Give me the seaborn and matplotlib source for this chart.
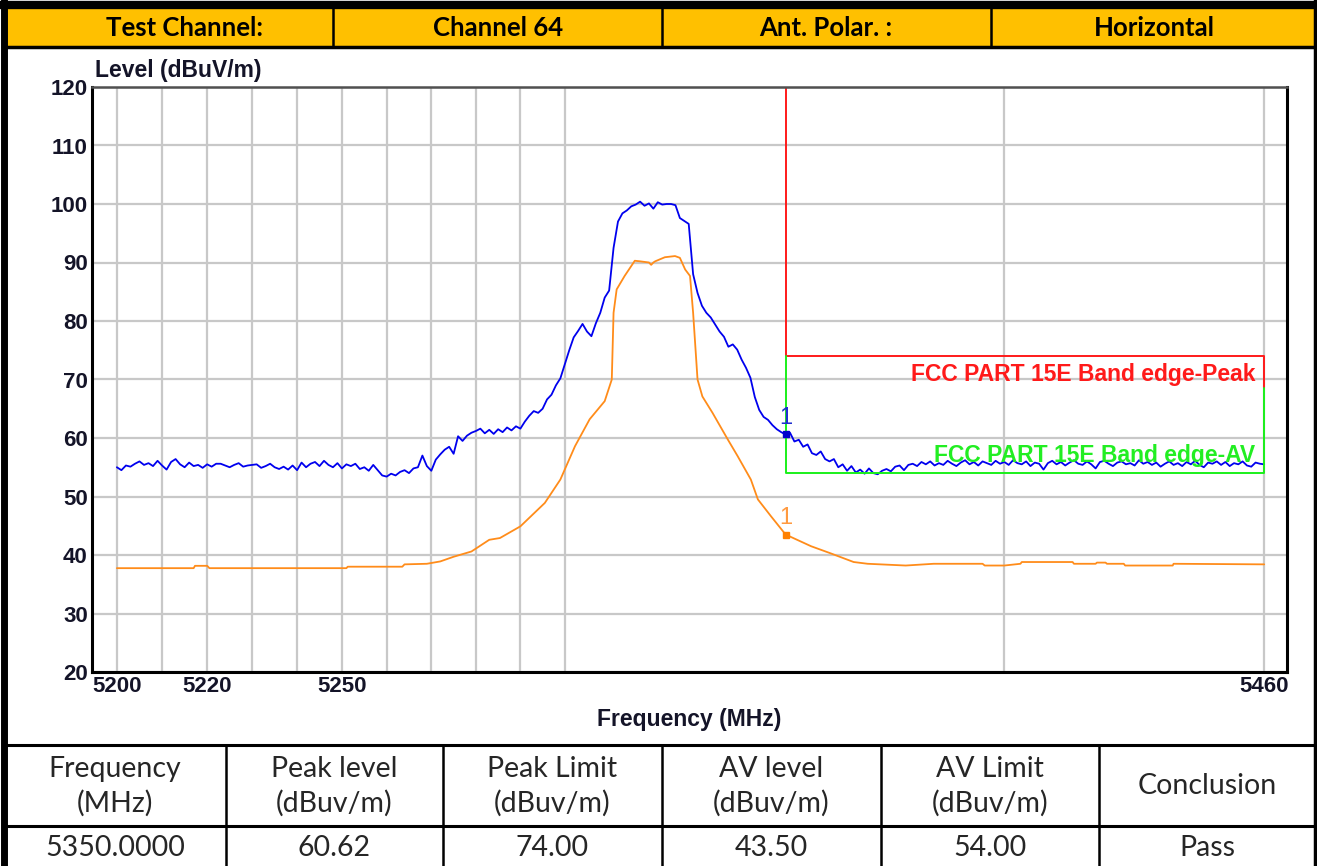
import numpy as np
import pandas as pd
import seaborn as sns
import matplotlib.pyplot as plt
from matplotlib.lines import Line2D
from matplotlib.patches import Rectangle
from matplotlib.ticker import NullFormatter

# header / result table text
header_cells = ['Test Channel:', 'Channel 64', 'Ant. Polar. :', 'Horizontal']
table_heads = ['Frequency\n(MHz)', 'Peak level\n(dBuv/m)', 'Peak Limit\n(dBuv/m)',
               'AV level\n(dBuv/m)', 'AV Limit\n(dBuv/m)', 'Conclusion']
table_vals = ['5350.0000', '60.62', '74.00', '43.50', '54.00', 'Pass']

marker_freq = 5350.0
peak_level = 60.62
av_level = 43.50
peak_limit = 74.0
av_limit = 54.0
limit_join = 68.5

# peak sweep (blue), one point per MHz from 5200 to 5460
peak_freq = np.arange(5200, 5461, 1)
peak_vals = [
    55.0, 54.5, 55.3, 55.1, 55.6, 56.0, 55.4, 55.7, 55.2, 56.1,
    55.3, 54.6, 55.9, 56.4, 55.5, 55.0, 55.8, 55.2, 55.4, 54.9,
    55.5, 55.1, 55.6, 55.6, 55.3, 55.0, 55.4, 55.7, 55.1, 55.3,
    55.4, 55.5, 54.9, 55.2, 55.6, 55.0, 54.7, 55.1, 54.6, 55.3,
    54.5, 55.8, 55.0, 55.6, 55.9, 55.2, 56.1, 55.4, 55.0, 55.7,
    54.8, 55.5, 55.2, 55.6, 54.7, 55.0, 54.4, 55.4, 54.5, 53.6,
    53.4, 53.9, 53.6, 54.2, 54.5, 54.0, 54.8, 55.0, 57.0, 55.2,
    54.4, 56.3, 57.2, 58.0, 58.5, 57.3, 60.3, 59.5, 60.4, 60.9,
    61.2, 61.6, 60.8, 61.4, 60.7, 61.5, 61.0, 61.8, 61.3, 62.0,
    61.6, 62.8, 63.8, 64.6, 64.3, 65.0, 66.6, 67.4, 69.0, 70.2,
    72.6, 75.0, 77.2, 78.3, 79.5, 78.2, 77.4, 79.6, 81.4, 84.0,
    85.2, 92.5, 97.0, 98.4, 98.9, 99.6, 99.9, 100.4, 99.7, 100.1,
    99.2, 100.3, 99.9, 100.0, 100.0, 99.8, 97.6, 97.1, 96.6, 88.0,
    84.8, 82.6, 81.4, 80.6, 79.4, 78.2, 77.3, 75.6, 76.0, 75.1,
    73.4, 72.0, 70.3, 67.0, 64.8, 63.6, 63.1, 62.2, 61.5, 61.0,
    60.6, 60.9, 59.4, 59.7, 58.5, 58.9, 57.4, 57.1, 57.7, 56.4,
    56.0, 56.4, 55.0, 55.5, 54.4, 55.2, 54.1, 54.6, 53.9, 54.8,
    54.0, 53.8, 54.4, 54.7, 54.3, 55.1, 55.3, 54.5, 55.4, 55.6,
    55.2, 55.9, 55.5, 56.0, 55.3, 55.7, 55.4, 56.1, 55.6, 55.2,
    55.8, 56.2, 55.5, 55.9, 55.3, 56.0, 55.7, 55.4, 56.1, 55.6,
    55.9, 55.4, 56.2, 55.7, 55.5, 56.0, 55.2, 55.8, 55.6, 54.6,
    55.7, 56.1, 55.5, 55.9, 55.3, 55.8, 56.2, 55.6, 55.4, 56.0,
    55.5, 54.8, 55.9, 56.1, 55.6, 55.2, 55.8, 56.0, 55.5, 55.7,
    55.3, 56.2, 55.6, 55.9, 55.4, 55.8, 55.1, 55.6, 56.0, 55.4,
    55.7, 55.2, 55.9, 55.5, 56.1, 55.4, 55.0, 55.8, 55.6, 56.0,
    55.4, 55.9, 55.2, 55.7, 55.5, 56.0, 55.3, 55.1, 55.8, 55.6,
    55.5,
]

# average sweep (orange), breakpoints
av_freq = [5200, 5217, 5217.3, 5220, 5220.5, 5251, 5251.3, 5263.5, 5264, 5269,
           5272, 5275, 5279, 5283, 5285.4, 5290, 5295.5, 5299, 5302.3, 5305.6,
           5309, 5310.6, 5311, 5311.7, 5313.5, 5315.8, 5317, 5319, 5319.5, 5320,
           5320.4, 5322.6, 5324.9, 5326, 5327.2, 5328.3, 5329, 5330, 5331.1, 5333.4,
           5336.9, 5339.1, 5342.1, 5343.7, 5346.7, 5350, 5355.8, 5360.2, 5365.5, 5368.7,
           5377.4, 5383.8, 5395, 5395.5, 5400, 5403.7, 5404, 5415.7, 5416, 5421,
           5421.3, 5423.3, 5423.6, 5427.5, 5427.8, 5438.8, 5439, 5460]
av_vals = [37.75, 37.75, 38.15, 38.15, 37.75, 37.75, 38.0, 38.0, 38.4, 38.5,
           38.9, 39.7, 40.6, 42.6, 42.9, 44.9, 48.9, 52.9, 58.6, 63.2,
           66.3, 70.0, 81.4, 85.4, 87.7, 90.3, 90.2, 90.0, 89.6, 90.0,
           90.2, 90.9, 91.1, 90.8, 88.8, 87.7, 81.4, 70.0, 67.1, 64.3,
           59.7, 56.9, 52.9, 49.5, 46.6, 43.5, 41.5, 40.3, 38.8, 38.5,
           38.2, 38.5, 38.5, 38.2, 38.2, 38.5, 38.8, 38.8, 38.5, 38.5,
           38.7, 38.7, 38.5, 38.5, 38.2, 38.2, 38.5, 38.4]

# limit lines
peak_lim_x = [5350, 5350, 5460, 5460]
peak_lim_y = [120, peak_limit, peak_limit, limit_join]
av_lim_x = [5350, 5350, 5460, 5460]
av_lim_y = [peak_limit, av_limit, av_limit, limit_join]

grid_major = [5200, 5220, 5250, 5460]
grid_minor = [5210, 5230, 5240, 5260, 5270, 5280, 5290, 5300, 5400]

sns.set_style('white')
plt.rcParams['font.family'] = ['Liberation Sans', 'DejaVu Sans']

W, H = 1317, 866
fig = plt.figure(figsize=(W / 100, H / 100), dpi=100)


def fx(x):
    return x / W


def fy(y):
    return 1 - y / H


def hline(y, x0, x1, lw=2.0):
    fig.add_artist(Line2D([fx(x0), fx(x1)], [fy(y), fy(y)], color='black', lw=lw))


def vline(x, y0, y1, lw=2.0):
    fig.add_artist(Line2D([fx(x), fx(x)], [fy(y0), fy(y1)], color='black', lw=lw))


# header row
fig.add_artist(Rectangle((fx(5), fy(47)), fx(1315) - fx(5), fy(8) - fy(47),
                         facecolor='#FFC000', edgecolor='none'))
head_x = [185, 498, 826, 1154]
for hx, txt in zip(head_x, header_cells):
    fig.text(fx(hx), fy(28), txt, ha='center', va='center', fontsize=18.5,
             fontweight='bold', family=['Lato', 'DejaVu Sans'], color='black')
hline(5, 0, 1317, lw=6)
hline(47, 3, 1315, lw=2.5)
for sx in [333, 662, 991]:
    vline(sx, 8, 47, lw=1.8)
vline(4, 0, 866, lw=5)
vline(1315, 0, 866, lw=2.5)

# result table
col_edges = [4, 226, 443, 662, 881, 1099, 1315]
hline(745, 4, 1317, lw=2.2)
hline(826, 4, 1317, lw=2.2)
for sx in col_edges[1:-1]:
    vline(sx, 745, 866, lw=1.8)
for i, (th, tv) in enumerate(zip(table_heads, table_vals)):
    cx = (col_edges[i] + col_edges[i + 1]) / 2
    fig.text(fx(cx), fy(786), th, ha='center', va='center', fontsize=20.5,
             family=['Lato', 'DejaVu Sans'], linespacing=1.35)
    fig.text(fx(cx), fy(848), tv, ha='center', va='center', fontsize=20.5,
             family=['Lato', 'DejaVu Sans'])

# chart
ax = fig.add_axes([fx(92), fy(672), fx(1287) - fx(92), fy(87) - fy(672)])
ax.set_xscale('log')

sns.lineplot(x=peak_freq, y=peak_vals, ax=ax, color='#0000EE', lw=1.3, sort=False)
sns.lineplot(x=av_freq, y=av_vals, ax=ax, color='#FF8C1A', lw=1.3, sort=False)
ax.plot(peak_lim_x, peak_lim_y, color='#FF1A1A', lw=1.4)
ax.plot(av_lim_x, av_lim_y, color='#1AF01A', lw=1.4)

ax.plot([marker_freq], [peak_level], marker='s', ms=5, color='#0000CC', ls='none')
ax.plot([marker_freq], [av_level], marker='s', ms=5, color='#FF8000', ls='none')
ax.text(marker_freq, peak_level + 1.0, '1', color='#2030D0', fontsize=17, ha='center', va='bottom')
ax.text(marker_freq, av_level + 1.0, '1', color='#FF9A40', fontsize=17, ha='center', va='bottom')

ax.text(5458, 70.9, 'FCC PART 15E Band edge-Peak', color='#FF1A1A', fontsize=16.5,
        fontweight='bold', ha='right', va='center')
ax.text(5458, 57.0, 'FCC PART 15E Band edge-AV', color='#22EE22', fontsize=16.5,
        fontweight='bold', ha='right', va='center')

ax.set_xlim(5194.5, 5465.3)
ax.set_ylim(20, 120)
ax.set_xticks(grid_major)
ax.set_xticklabels([str(v) for v in grid_major])
ax.set_xticks(grid_minor, minor=True)
ax.xaxis.set_minor_formatter(NullFormatter())
ax.set_yticks(np.arange(20, 121, 10))
ax.grid(True, which='both', color='#C8C8C8', lw=1.6)
ax.set_axisbelow(True)
ax.tick_params(which='both', length=0, labelsize=16, pad=3)
for lab in ax.get_xticklabels() + ax.get_yticklabels():
    lab.set_fontweight('bold')
    lab.set_color('#141428')

ax.set_xlabel('Frequency (MHz)', fontsize=16.5, fontweight='bold', color='#141428', labelpad=8)
ax.set_ylabel('')
fig.text(fx(95), fy(70), 'Level (dBuV/m)', fontsize=16.5, fontweight='bold',
         color='#141428', ha='left', va='center')

for side in ['left', 'bottom', 'right']:
    ax.spines[side].set_color('black')
    ax.spines[side].set_linewidth(2.2)
ax.spines['top'].set_color('#505050')
ax.spines['top'].set_linewidth(1.8)

fig.savefig('out.png', dpi=100)
